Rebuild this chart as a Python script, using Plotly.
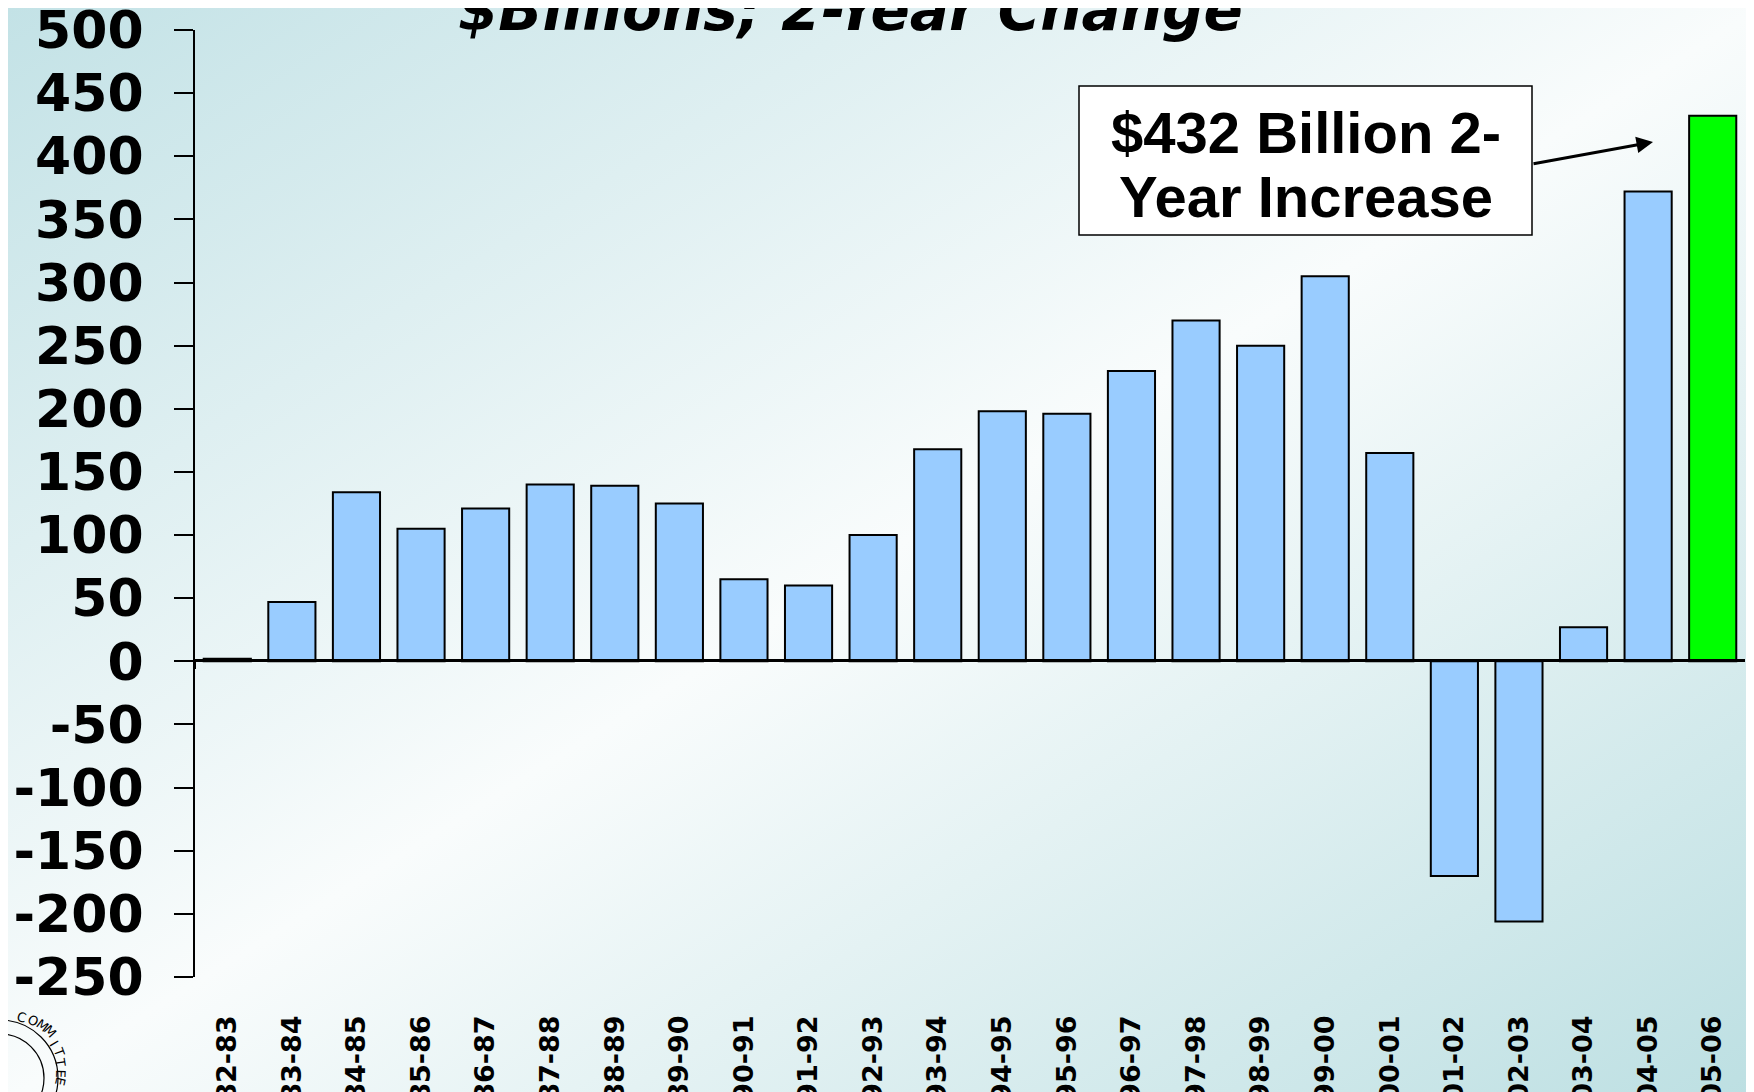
import base64, math
import plotly.graph_objects as go

categories = ["82-83", "83-84", "84-85", "85-86", "86-87", "87-88", "88-89", "89-90",
              "90-91", "91-92", "92-93", "93-94", "94-95", "95-96", "96-97", "97-98",
              "98-99", "99-00", "00-01", "01-02", "02-03", "03-04", "04-05", "05-06"]
values = [2, 47, 134, 105, 121, 140, 139, 125, 65, 60, 100, 168, 198, 196, 230, 270,
          250, 305, 165, -170, -206, 27, 372, 432]
highlight = "05-06"
y_ticks = [500, 450, 400, 350, 300, 250, 200, 150, 100, 50, 0, -50, -100, -150, -200, -250]
y_tick_text = [str(v) for v in y_ticks]
title_text = "$Billions; 2-Year Change"
callout_lines = ["$432 Billion 2-", "Year Increase"]

W, H = 1754, 1092
O = 8  # page body offset
# plot area in page pixels
PL, PR, PT, PB = 195, 1745, 30, 977
L, T = PL - O, PT - O
R, B = W - (PR - O), H - (PB - O)
PW, PH = PR - PL, PB - PT

def px(x):  # page pixel -> paper x
    return (x - PL) / PW

def py(y):  # page pixel -> paper y
    return (PB - y) / PH

colors = ["#00ff00" if c == highlight else "#99ccff" for c in categories]

fig = go.Figure()
fig.add_trace(go.Bar(x=categories, y=values, marker=dict(color=colors, line=dict(color="black", width=2)),
                     showlegend=False, hoverinfo="x+y"))
fig.add_trace(go.Scatter(x=categories, y=[None] * len(categories), xaxis="x2", mode="markers",
                         showlegend=False, hoverinfo="skip"))

svg = f'''<svg xmlns="http://www.w3.org/2000/svg" width="{W}" height="{H}" viewBox="0 0 {W} {H}" preserveAspectRatio="none">
<defs><linearGradient id="g" x1="0" y1="0" x2="1" y2="1">
<stop offset="0" stop-color="#c3e2e6"/>
<stop offset="0.5" stop-color="#f9fcfc"/>
<stop offset="1" stop-color="#bcdfe2"/>
</linearGradient></defs>
<rect x="0" y="0" width="{W}" height="{H}" fill="url(#g)"/></svg>'''
src = "data:image/svg+xml;base64," + base64.b64encode(svg.encode()).decode()
fig.add_layout_image(dict(source=src, xref="paper", yref="paper", x=px(O), y=py(O),
                          sizex=W / PW, sizey=H / PH, sizing="stretch",
                          xanchor="left", yanchor="top", layer="below"))

# seal in bottom-left corner
cx, cy = 0, 1078
for r in (58, 44):
    fig.add_shape(type="circle", xref="paper", yref="paper",
                  x0=px(cx - r), x1=px(cx + r), y0=py(cy + r), y1=py(cy - r),
                  line=dict(color="black", width=1.2))
for i, ch in enumerate("COMMITTEE"):
    ang = 15 + i * 11
    rr = 51
    x = cx + rr * math.sin(math.radians(ang))
    y = cy - rr * math.cos(math.radians(ang))
    fig.add_annotation(text=ch, xref="paper", yref="paper", x=px(x), y=py(y),
                       showarrow=False, textangle=ang,
                       font=dict(family="DejaVu Sans", size=13, color="black"))

# title
fig.add_annotation(text=title_text, xref="paper", yref="paper", x=px(850), y=py(10),
                   xanchor="center", yanchor="middle", showarrow=False,
                   font=dict(family="DejaVu Sans", size=58, color="black", weight="bold", style="italic"))

# callout box
fig.add_shape(type="rect", xref="paper", yref="paper", x0=px(1079), x1=px(1532), y0=py(235), y1=py(86),
              fillcolor="white", line=dict(color="black", width=1.5), layer="above")
for line_text, ly in zip(callout_lines, (132, 196)):
    fig.add_annotation(text=line_text, xref="paper", yref="paper", x=px(1306), y=py(ly),
                       xanchor="center", yanchor="middle", showarrow=False,
                       font=dict(family="Liberation Sans", size=58, color="black", weight="bold"))
# arrow from box edge to the highlighted bar
fig.add_annotation(text="", xref="paper", yref="paper", x=px(1653), y=py(142),
                   axref="pixel", ayref="pixel", ax=1532 - 1653, ay=164 - 142,
                   showarrow=True, arrowhead=2, arrowsize=1.1, arrowwidth=3, arrowcolor="black")

fig.update_layout(
    width=W, height=H,
    margin=dict(l=L, r=R, t=T, b=B),
    paper_bgcolor="white", plot_bgcolor="rgba(0,0,0,0)",
    bargap=0.27,
    xaxis=dict(type="category", categoryorder="array", categoryarray=categories,
               range=[-0.5, len(categories) - 0.5], automargin=False,
               showline=False, showgrid=False, zeroline=False, ticks="",
               tickangle=-90, ticklabelstandoff=32, ticklabeloverflow="allow",
               tickfont=dict(family="DejaVu Sans", size=27, color="black", weight="bold")),
    xaxis2=dict(matches="x", overlaying="x", anchor="free", position=py(660),
                showline=True, linecolor="black", linewidth=2, showgrid=False, zeroline=False,
                tickmode="linear", dtick=1,
                ticks="outside", tickson="boundaries", ticklen=8, tickwidth=2, tickcolor="black",
                showticklabels=False),
    yaxis=dict(range=[-250, 500], tickmode="array", tickvals=y_ticks, ticktext=y_tick_text,
               showgrid=False, automargin=False,
               showline=True, linecolor="black", linewidth=2,
               zeroline=True, zerolinecolor="black", zerolinewidth=2,
               ticks="outside", ticklen=19, tickwidth=2, tickcolor="black",
               ticklabelstandoff=20, ticklabeloverflow="allow",
               tickfont=dict(family="DejaVu Sans", size=52, color="black", weight="bold")),
)

fig.write_html("out.html")
